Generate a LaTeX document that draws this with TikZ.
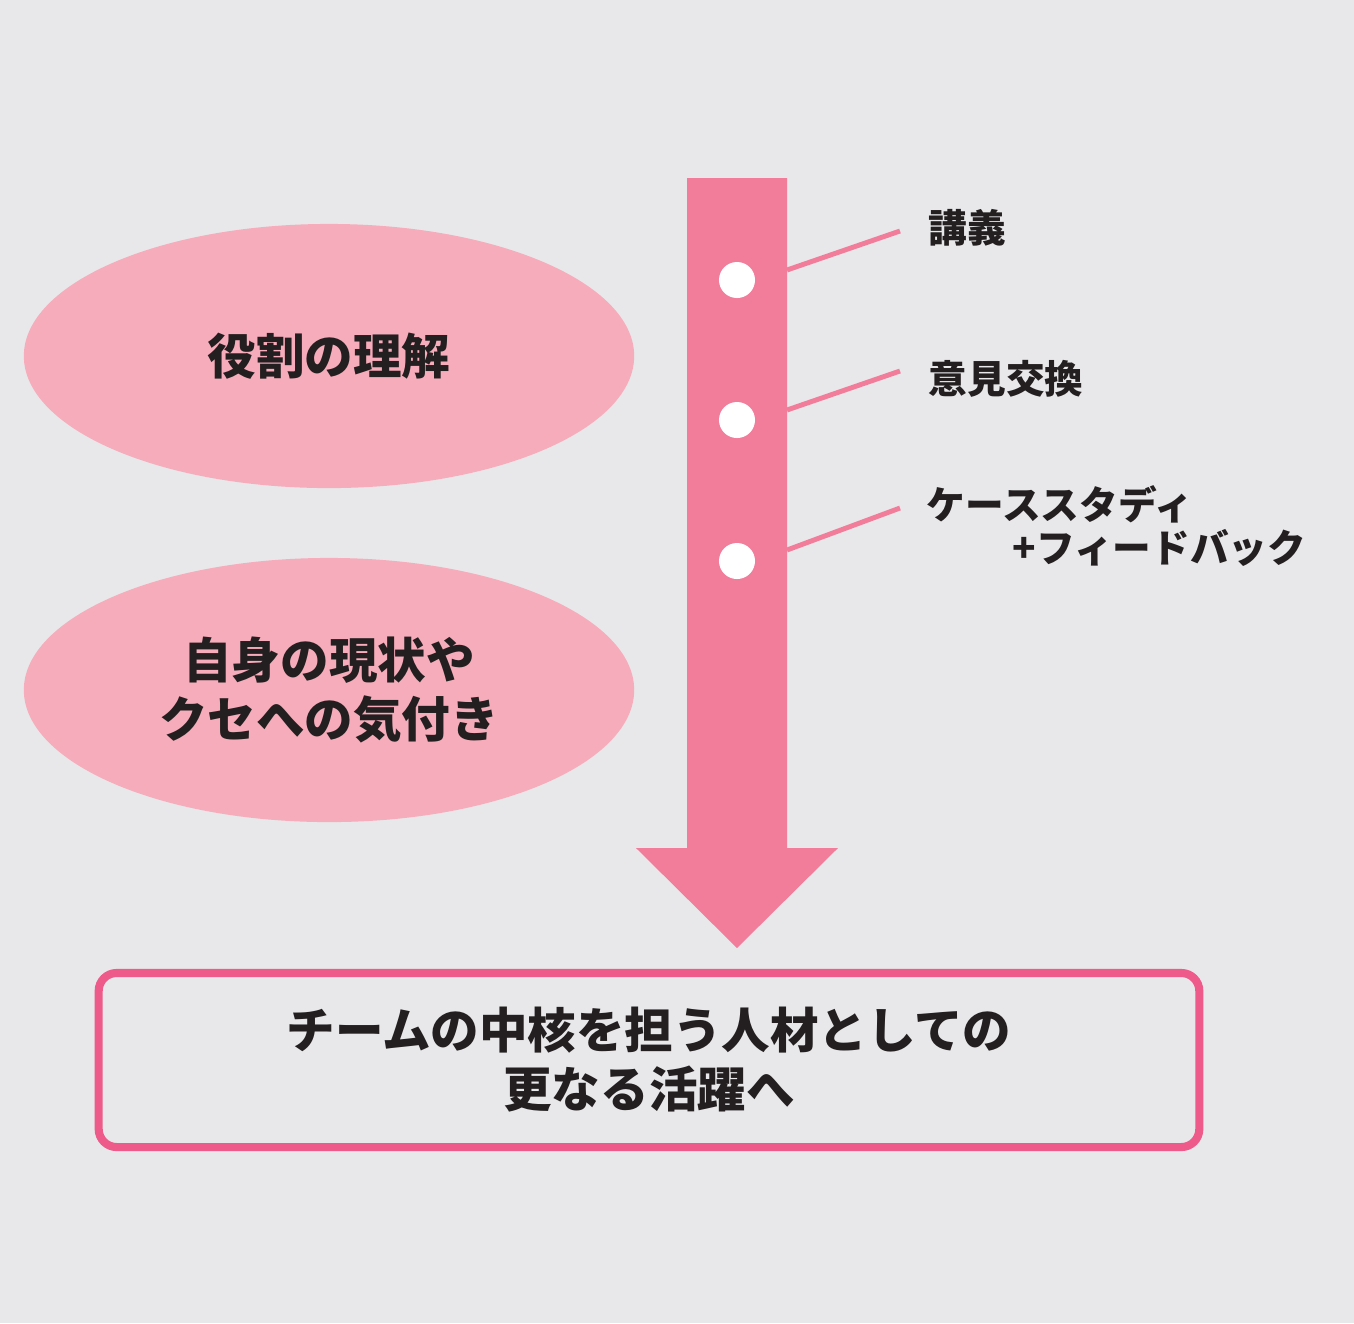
\documentclass[tikz,border=0pt]{standalone}
\usepackage{fontspec}
\newfontfamily\cjk{Noto Sans CJK JP}
\usetikzlibrary{positioning,shapes.geometric}
\definecolor{bgGray}{HTML}{E8E8EA}
\definecolor{arrowPink}{HTML}{F27D9B}
\definecolor{ovalPink}{HTML}{F6ACBA}
\definecolor{framePink}{HTML}{EE5A89}
\definecolor{inkGray}{HTML}{231F20}
\tikzset{
	oval/.style={ellipse, fill=ovalPink, minimum width=6.1cm, minimum height=2.64cm, inner sep=0pt},
	stepdot/.style={circle, fill=white, minimum size=0.36cm, inner sep=0pt},
	tag/.style={anchor=west, font=\cjk\bfseries\fontsize{11}{13}\selectfont, text=inkGray, inner sep=0pt},
	lead/.style={arrowPink, line width=1.4pt},
	big/.style={font=\cjk\bfseries\fontsize{13.8}{16.8}\selectfont, text=inkGray, align=center}
}
\begin{document}
\begin{tikzpicture}[x=0.01cm, y=-0.01cm]
		% background
		\fill [bgGray] (0,0) rectangle (1354,1323);
		\useasboundingbox (0,0) rectangle (1354,1323);
		% ovals
			\node [oval, big] (role) at (329,356) {役割の理解};
			\node [oval, big] (self) at (329,690) {自身の現状や\\クセへの気付き};
		% arrow
			\fill [arrowPink] (687,178) -- (787,178) -- (787,848) -- (838,848) -- (737,948) -- (636,848) -- (687,848) -- cycle;
			\node [stepdot] (d1) at (737,280) {};
			\node [stepdot] (d2) at (737,420) {};
			\node [stepdot] (d3) at (737,561) {};
		% labels
			\coordinate (e1) at (900,231);
			\coordinate (e2) at (900,371);
			\coordinate (e3) at (900,508);
			\draw [lead] (787,270) -- (e1);
			\draw [lead] (787,410) -- (e2);
			\draw [lead] (787,550) -- (e3);
			\node [tag] (t1) at (928,228) {講義};
			\node [tag] (t2) at (928,379) {意見交換};
			\node [tag] (t3) at (926,504) {ケーススタディ};
			\node [tag] (t4) at (1012,548) {+フィードバック};
		% goal
			\node [draw=framePink, line width=2.3pt, rounded corners=0.18cm, minimum width=11cm, minimum height=1.74cm, big] (goal) at (649,1060) {チームの中核を担う人材としての\\更なる活躍へ};
	\end{tikzpicture}
\end{document}
